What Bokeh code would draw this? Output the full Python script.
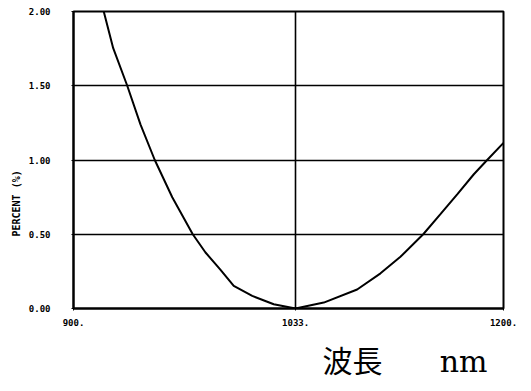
import math
from bokeh.plotting import figure
from bokeh.models import FixedTicker, Range1d, Title
from bokeh.embed import file_html
from bokeh.resources import INLINE

# data
wavelength = [921.1, 927.7, 937.5, 946.7, 956.7, 968.9, 983.2, 992.1, 1002.3, 1011.8,
              1024.7, 1039.7, 1054.9, 1074.6, 1097.9, 1114.2, 1128.1, 1144.0, 1156.0,
              1167.7, 1179.3, 1188.6, 1200.0]
percent = [2.0, 1.753, 1.5, 1.24, 1.0, 0.749, 0.5, 0.377, 0.264, 0.152,
           0.085, 0.029, 0.0, 0.040, 0.128, 0.237, 0.348, 0.5, 0.635,
           0.769, 0.904, 1.0, 1.115]

x_ticks = [900, 1055, 1200]
x_tick_labels = ["900.", "1033.", "1200."]
y_ticks = [0.0, 0.5, 1.0, 1.5, 2.0]
y_tick_labels = ["0.00", "0.50", "1.00", "1.50", "2.00"]
y_title = "PERCENT (%)"
x_title = "波長\u00a0\u00a0\u00a0\u00a0\u00a0\u00a0nm"

p = figure(width=531, height=391, output_backend="svg", toolbar_location=None,
           x_range=Range1d(900, 1200), y_range=Range1d(0, 2),
           min_border_left=73, min_border_right=28, min_border_top=11, min_border_bottom=82)
p.background_fill_color = "white"
p.border_fill_color = "white"
p.outline_line_color = "black"
p.outline_line_width = 2

p.line(wavelength, percent, line_color="black", line_width=2)

p.xaxis.ticker = FixedTicker(ticks=x_ticks)
p.xaxis.major_label_overrides = {t: l for t, l in zip(x_ticks, x_tick_labels)}
p.yaxis.ticker = FixedTicker(ticks=y_ticks)
p.yaxis.major_label_overrides = {t: l for t, l in zip(y_ticks, y_tick_labels)}

for ax in (p.xaxis[0], p.yaxis[0]):
    ax.axis_line_color = "black"
    ax.axis_line_width = 2
    ax.major_tick_line_color = "black"
    ax.major_tick_in = 0
    ax.major_tick_out = 2
    ax.minor_tick_line_color = None
    ax.major_label_text_font = "DejaVu Sans Mono"
    ax.major_label_text_font_style = "bold"
    ax.major_label_text_font_size = "9px"
    ax.major_label_text_color = "black"
p.xaxis.major_label_standoff = 8
p.yaxis.major_label_standoff = 21

p.xgrid.ticker = FixedTicker(ticks=[1055])
p.ygrid.ticker = FixedTicker(ticks=[0.5, 1.0, 1.5])
for g in (p.xgrid[0], p.ygrid[0]):
    g.grid_line_color = "black"
    g.grid_line_width = 1.6
    g.grid_line_alpha = 1.0

p.add_layout(Title(text=y_title, align="left", offset=72, standoff=8,
                   text_font="DejaVu Sans Mono", text_font_style="bold",
                   text_font_size="10px", text_color="black"), "left")
p.add_layout(Title(text=x_title, align="right", offset=16, standoff=26,
                   text_font="DejaVu Serif, Noto Sans CJK JP", text_font_style="normal",
                   text_font_size="30px", text_color="black"), "below")

open("out.html", "w").write(file_html(p, INLINE))
